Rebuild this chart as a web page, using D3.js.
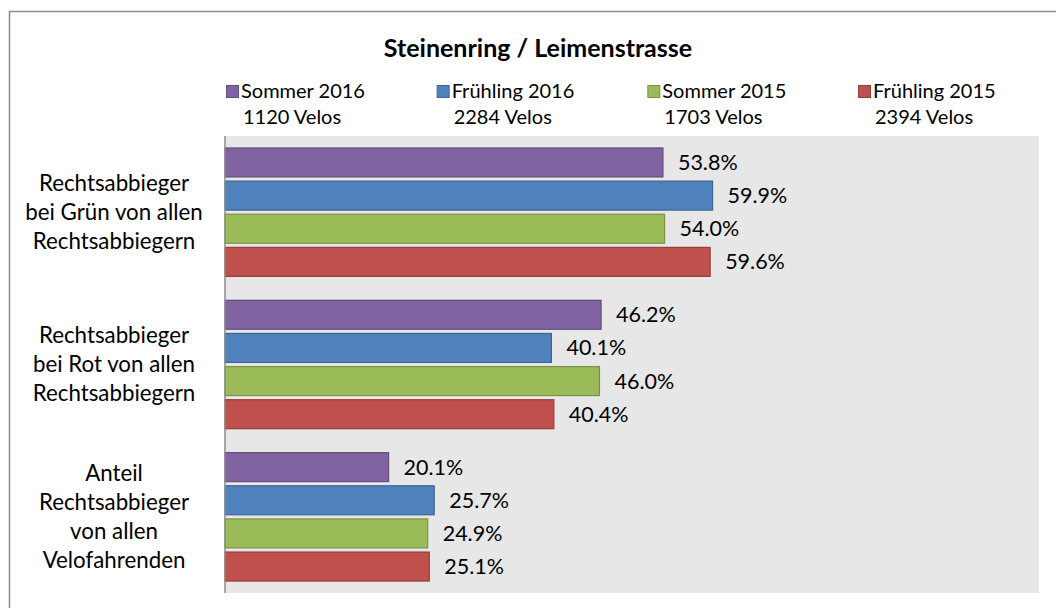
<!DOCTYPE html>
<html>
<head>
<meta charset="utf-8">
<script src="https://cdn.jsdelivr.net/npm/d3@7"></script>
<style>
  html, body { margin: 0; padding: 0; background: #fff; }
  svg { display: block; font-family: Lato, "Open Sans", sans-serif; }
</style>
</head>
<body>
<svg id="chart" width="1056" height="608"></svg>
<script>
// categories, one label line per "\n"
const categories = [
	"Rechtsabbieger\nbei Grün von allen\nRechtsabbiegern",
	"Rechtsabbieger\nbei Rot von allen\nRechtsabbiegern",
	"Anteil\nRechtsabbieger\nvon allen\nVelofahrenden"
];
const seriesNames = ["Sommer 2016", "Frühling 2016", "Sommer 2015", "Frühling 2015"];
const seriesCounts = ["1120 Velos", "2284 Velos", "1703 Velos", "2394 Velos"];
const seriesColors = ["#8064A2", "#4F81BD", "#9BBB59", "#C0504D"];

// percent per category, one array per series
const sommer2016 = [53.8, 46.2, 20.1];
const fruehling2016 = [59.9, 40.1, 25.7];
const sommer2015 = [54.0, 46.0, 24.9];
const fruehling2015 = [59.6, 40.4, 25.1];

const title = "Steinenring / Leimenstrasse";

const seriesValues = [sommer2016, fruehling2016, sommer2015, fruehling2015];

const svg = d3.select("#chart");

// outer chart frame (runs off the right and bottom edge)
svg.append("rect")
	.attr("x", 9.5).attr("y", 11.5)
	.attr("width", 1200).attr("height", 800)
	.attr("fill", "#fff")
	.attr("stroke", "#8c8c8c")
	.attr("stroke-width", 1.5);

const plot = { left: 225, right: 1039, top: 136, bottom: 593 };

const x = d3.scaleLinear().domain([0, 100]).range([plot.left, plot.right]);

const y0 = d3.scaleBand()
	.domain(d3.range(categories.length))
	.range([plot.top, plot.bottom])
	.paddingInner(0.157)
	.paddingOuter(0.0785);

const y1 = d3.scaleBand()
	.domain(d3.range(seriesNames.length))
	.range([0, y0.bandwidth()])
	.paddingInner(0.125)
	.paddingOuter(0);

// plot background
svg.append("rect")
	.attr("x", plot.left).attr("y", plot.top)
	.attr("width", plot.right - plot.left)
	.attr("height", plot.bottom - plot.top)
	.attr("fill", "#e7e7e7");

// title
svg.append("text")
	.attr("x", 538).attr("y", 57)
	.attr("text-anchor", "middle")
	.attr("font-size", 25)
	.attr("font-weight", "bold")
	.attr("fill", "#000")
	.text(title);

// legend
const legendX = d3.scalePoint().domain(d3.range(seriesNames.length)).range([226, 858]);
const legend = svg.append("g").selectAll("g")
	.data(seriesNames)
	.enter().append("g")
	.attr("transform", (d, i) => `translate(${legendX(i)},0)`);

legend.append("rect")
	.attr("x", 0.5).attr("y", 85.5)
	.attr("width", 12).attr("height", 12)
	.attr("fill", (d, i) => seriesColors[i])
	.attr("stroke", (d, i) => d3.color(seriesColors[i]).darker(0.7));

legend.append("text")
	.attr("x", 15).attr("y", 98)
	.attr("font-size", 20)
	.attr("fill", "#000")
	.text(d => d);

legend.append("text")
	.attr("x", 17).attr("y", 124)
	.attr("font-size", 20)
	.attr("fill", "#000")
	.text((d, i) => seriesCounts[i]);

// bars
const groups = svg.append("g").selectAll("g")
	.data(categories)
	.enter().append("g")
	.attr("transform", (d, i) => `translate(0,${y0(i)})`);

const barData = (d, ci) => seriesValues.map((vals, si) => ({ si: si, value: vals[ci] }));

groups.each(function(d, ci) {
	const g = d3.select(this);
	const rows = barData(d, ci);

	g.selectAll("rect")
		.data(rows)
		.enter().append("rect")
		.attr("x", x(0))
		.attr("y", r => y1(r.si))
		.attr("width", r => x(r.value) - x(0))
		.attr("height", y1.bandwidth())
		.attr("fill", r => seriesColors[r.si])
		.attr("stroke", r => d3.color(seriesColors[r.si]).darker(0.7))
		.attr("stroke-width", 1.2);

	g.selectAll("text.val")
		.data(rows)
		.enter().append("text")
		.attr("class", "val")
		.attr("x", r => x(r.value) + 15)
		.attr("y", r => y1(r.si) + y1.bandwidth() / 2 + 7.5)
		.attr("font-size", 21.5)
		.attr("fill", "#000")
		.text(r => r.value.toFixed(1) + "%");
});

// category axis
svg.append("line")
	.attr("x1", plot.left).attr("x2", plot.left)
	.attr("y1", plot.top).attr("y2", plot.bottom)
	.attr("stroke", "#8c8c8c")
	.attr("stroke-width", 1.5);

const lineH = 29;
svg.append("g").selectAll("text")
	.data(categories)
	.enter().append("text")
	.attr("text-anchor", "middle")
	.attr("font-size", 22.3)
	.attr("fill", "#000")
	.each(function(d, i) {
		const lines = d.split("\n");
		const cy = y0(i) + y0.bandwidth() / 2;
		const first = cy - (lines.length - 1) / 2 * lineH + 7.5;
		d3.select(this).selectAll("tspan")
			.data(lines)
			.enter().append("tspan")
			.attr("x", 114)
			.attr("y", (l, j) => first + j * lineH)
			.text(l => l);
	});
</script>
</body>
</html>
